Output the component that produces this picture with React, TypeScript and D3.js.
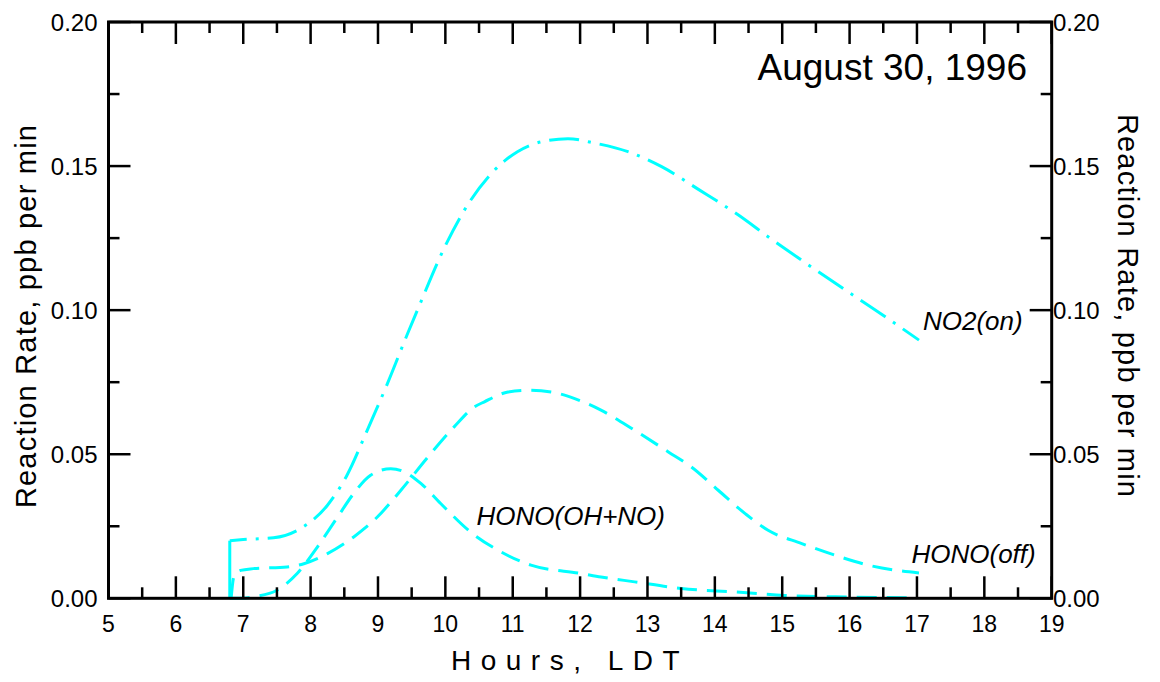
import React from "react";
import * as d3 from "d3";

// ---- data (hours LDT, reaction rate ppb/min) ----
const no2OnHours = [6.8, 6.8, 7.0, 7.45, 7.85, 8.25, 8.54, 8.84, 9.14, 9.44, 9.61, 9.98, 10.33, 10.73, 11.07, 11.42, 11.82, 12.21, 12.71, 13.21, 13.75, 14.35, 14.79, 15.79, 16.53, 17.03];
const no2OnValues = [0, 0.020, 0.0204, 0.021, 0.0242, 0.0323, 0.0427, 0.0583, 0.0745, 0.0919, 0.1014, 0.1214, 0.1365, 0.1486, 0.155, 0.1584, 0.1595, 0.158, 0.155, 0.1498, 0.142, 0.133, 0.1255, 0.1093, 0.0977, 0.0896];

const honoOffHours = [6.82, 6.86, 6.96, 7.15, 7.65, 7.9, 8.25, 8.64, 8.99, 9.34, 9.74, 10.13, 10.43, 10.58, 10.93, 11.22, 11.57, 11.92, 12.31, 12.81, 13.31, 13.65, 14.05, 14.45, 14.79, 15.29, 15.79, 16.28, 17.03];
const honoOffValues = [0, 0.0074, 0.0097, 0.0103, 0.0109, 0.012, 0.0155, 0.0213, 0.0282, 0.0375, 0.049, 0.0595, 0.0664, 0.0682, 0.0716, 0.0722, 0.0716, 0.0693, 0.0653, 0.0583, 0.0508, 0.0456, 0.0375, 0.0294, 0.0236, 0.019, 0.0149, 0.0115, 0.0088];

const honoOhNoHours = [6.8, 7.0, 7.15, 7.5, 7.8, 8.1, 8.4, 8.64, 8.89, 9.19, 9.39, 9.64, 9.93, 10.4, 10.78, 11.27, 12.02, 12.31, 12.81, 13.5, 14.3, 15.04, 15.79, 17.0];
const honoOhNoValues = [0, 0, 0.0005, 0.0028, 0.0086, 0.0178, 0.0282, 0.0364, 0.0427, 0.045, 0.0439, 0.0398, 0.0329, 0.0225, 0.0167, 0.0115, 0.0086, 0.0074, 0.0057, 0.0034, 0.0022, 0.001, 0.0005, 0.0002];

const xMajorTicks = [5, 6, 7, 8, 9, 10, 11, 12, 13, 14, 15, 16, 17, 18, 19];
const xMinorTicks = [5.5, 6.5, 7.5, 8.5, 9.5, 10.5, 11.5, 12.5, 13.5, 14.5, 15.5, 16.5, 17.5, 18.5];
const yMajorTicks = [0, 0.05, 0.1, 0.15, 0.2];
const yMinorTicks = [0.025, 0.075, 0.125, 0.175];

const title = "August 30, 1996";
const xTitle = "Hours, LDT";
const yTitle = "Reaction Rate, ppb per min";

const W = 1160, H = 682;
const L = 108.5, R = 1051.7, T = 22, B = 598.3;
const FONT = "'Liberation Sans', Arial, Helvetica, sans-serif";
const CYAN = "#00FFFF";

export default function App() {
  const x = d3.scaleLinear().domain([5, 19]).range([L, R]);
  const y = d3.scaleLinear().domain([0, 0.2]).range([B, T]);
  const fmt = d3.format(".2f");

  const mk = (hs: number[], vs: number[]) => hs.map((h, i) => [h, vs[i]] as [number, number]);
  const no2 = mk(no2OnHours, no2OnValues);
  const hoff = mk(honoOffHours, honoOffValues);
  const hoh = mk(honoOhNoHours, honoOhNoValues);

  const line = d3.line<[number, number]>().x(d => x(d[0])).y(d => y(d[1])).curve(d3.curveMonotoneX);
  const straight = d3.line<[number, number]>().x(d => x(d[0])).y(d => y(d[1]));

  const major = 22, minor = 11;

  return (
    <svg width={W} height={H} style={{ position: "absolute", left: 0, top: 0, background: "#fff" }} fontFamily={FONT}>
      {/* curves */}
      <g fill="none" stroke={CYAN} strokeWidth={3}>
        <path d={straight(no2.slice(0, 2)) || ""} />
        <path d={line(no2.slice(1)) || ""} strokeDasharray="30,9,3,9" strokeDashoffset={13} />
        <path d={line(hoff) || ""} strokeDasharray="20,10" />
        <path d={line(hoh) || ""} strokeDasharray="20,10" />
      </g>

      {/* frame */}
      <rect x={L} y={T} width={R - L} height={B - T} fill="none" stroke="#000" strokeWidth={3} />

      {/* ticks */}
      <g stroke="#000" strokeWidth={2.5}>
        {xMajorTicks.map(t => (
          <g key={"xm" + t}>
            <line x1={x(t)} x2={x(t)} y1={B} y2={B - major} />
            <line x1={x(t)} x2={x(t)} y1={T} y2={T + major} />
          </g>
        ))}
        {xMinorTicks.map(t => (
          <g key={"xn" + t}>
            <line x1={x(t)} x2={x(t)} y1={B} y2={B - minor} />
            <line x1={x(t)} x2={x(t)} y1={T} y2={T + minor} />
          </g>
        ))}
        {yMajorTicks.map(t => (
          <g key={"ym" + t}>
            <line x1={L} x2={L + major} y1={y(t)} y2={y(t)} />
            <line x1={R} x2={R - major} y1={y(t)} y2={y(t)} />
          </g>
        ))}
        {yMinorTicks.map(t => (
          <g key={"yn" + t}>
            <line x1={L} x2={L + minor} y1={y(t)} y2={y(t)} />
            <line x1={R} x2={R - minor} y1={y(t)} y2={y(t)} />
          </g>
        ))}
      </g>

      {/* tick labels */}
      <g fontSize={23} fill="#000">
        {xMajorTicks.map(t => (
          <text key={"xl" + t} x={x(t)} y={632} textAnchor="middle">{t}</text>
        ))}
        {yMajorTicks.map(t => (
          <text key={"yl" + t} x={97.5} y={y(t)} dy="0.36em" textAnchor="end" fontSize={24}>{fmt(t)}</text>
        ))}
        {yMajorTicks.map(t => (
          <text key={"yr" + t} x={1053} y={y(t)} dy="0.36em" textAnchor="start" fontSize={24}>{fmt(t)}</text>
        ))}
      </g>

      {/* axis titles */}
      <text x={451} y={670} fontSize={28} letterSpacing={9.5}>{xTitle}</text>
      <text transform={`translate(36,316) rotate(-90)`} textAnchor="middle" fontSize={29} letterSpacing={1.2}>{yTitle}</text>
      <text transform={`translate(1118,306) rotate(90)`} textAnchor="middle" fontSize={29} letterSpacing={1.2}>{yTitle}</text>

      {/* title */}
      <text x={1027} y={80} textAnchor="end" fontSize={37}>{title}</text>

      {/* curve labels */}
      <g fontSize={26} fontStyle="italic">
        <text x={923} y={330}>NO2(on)</text>
        <text x={476.5} y={525}>HONO(OH+NO)</text>
        <text x={911.5} y={563}>HONO(off)</text>
      </g>
    </svg>
  );
}
